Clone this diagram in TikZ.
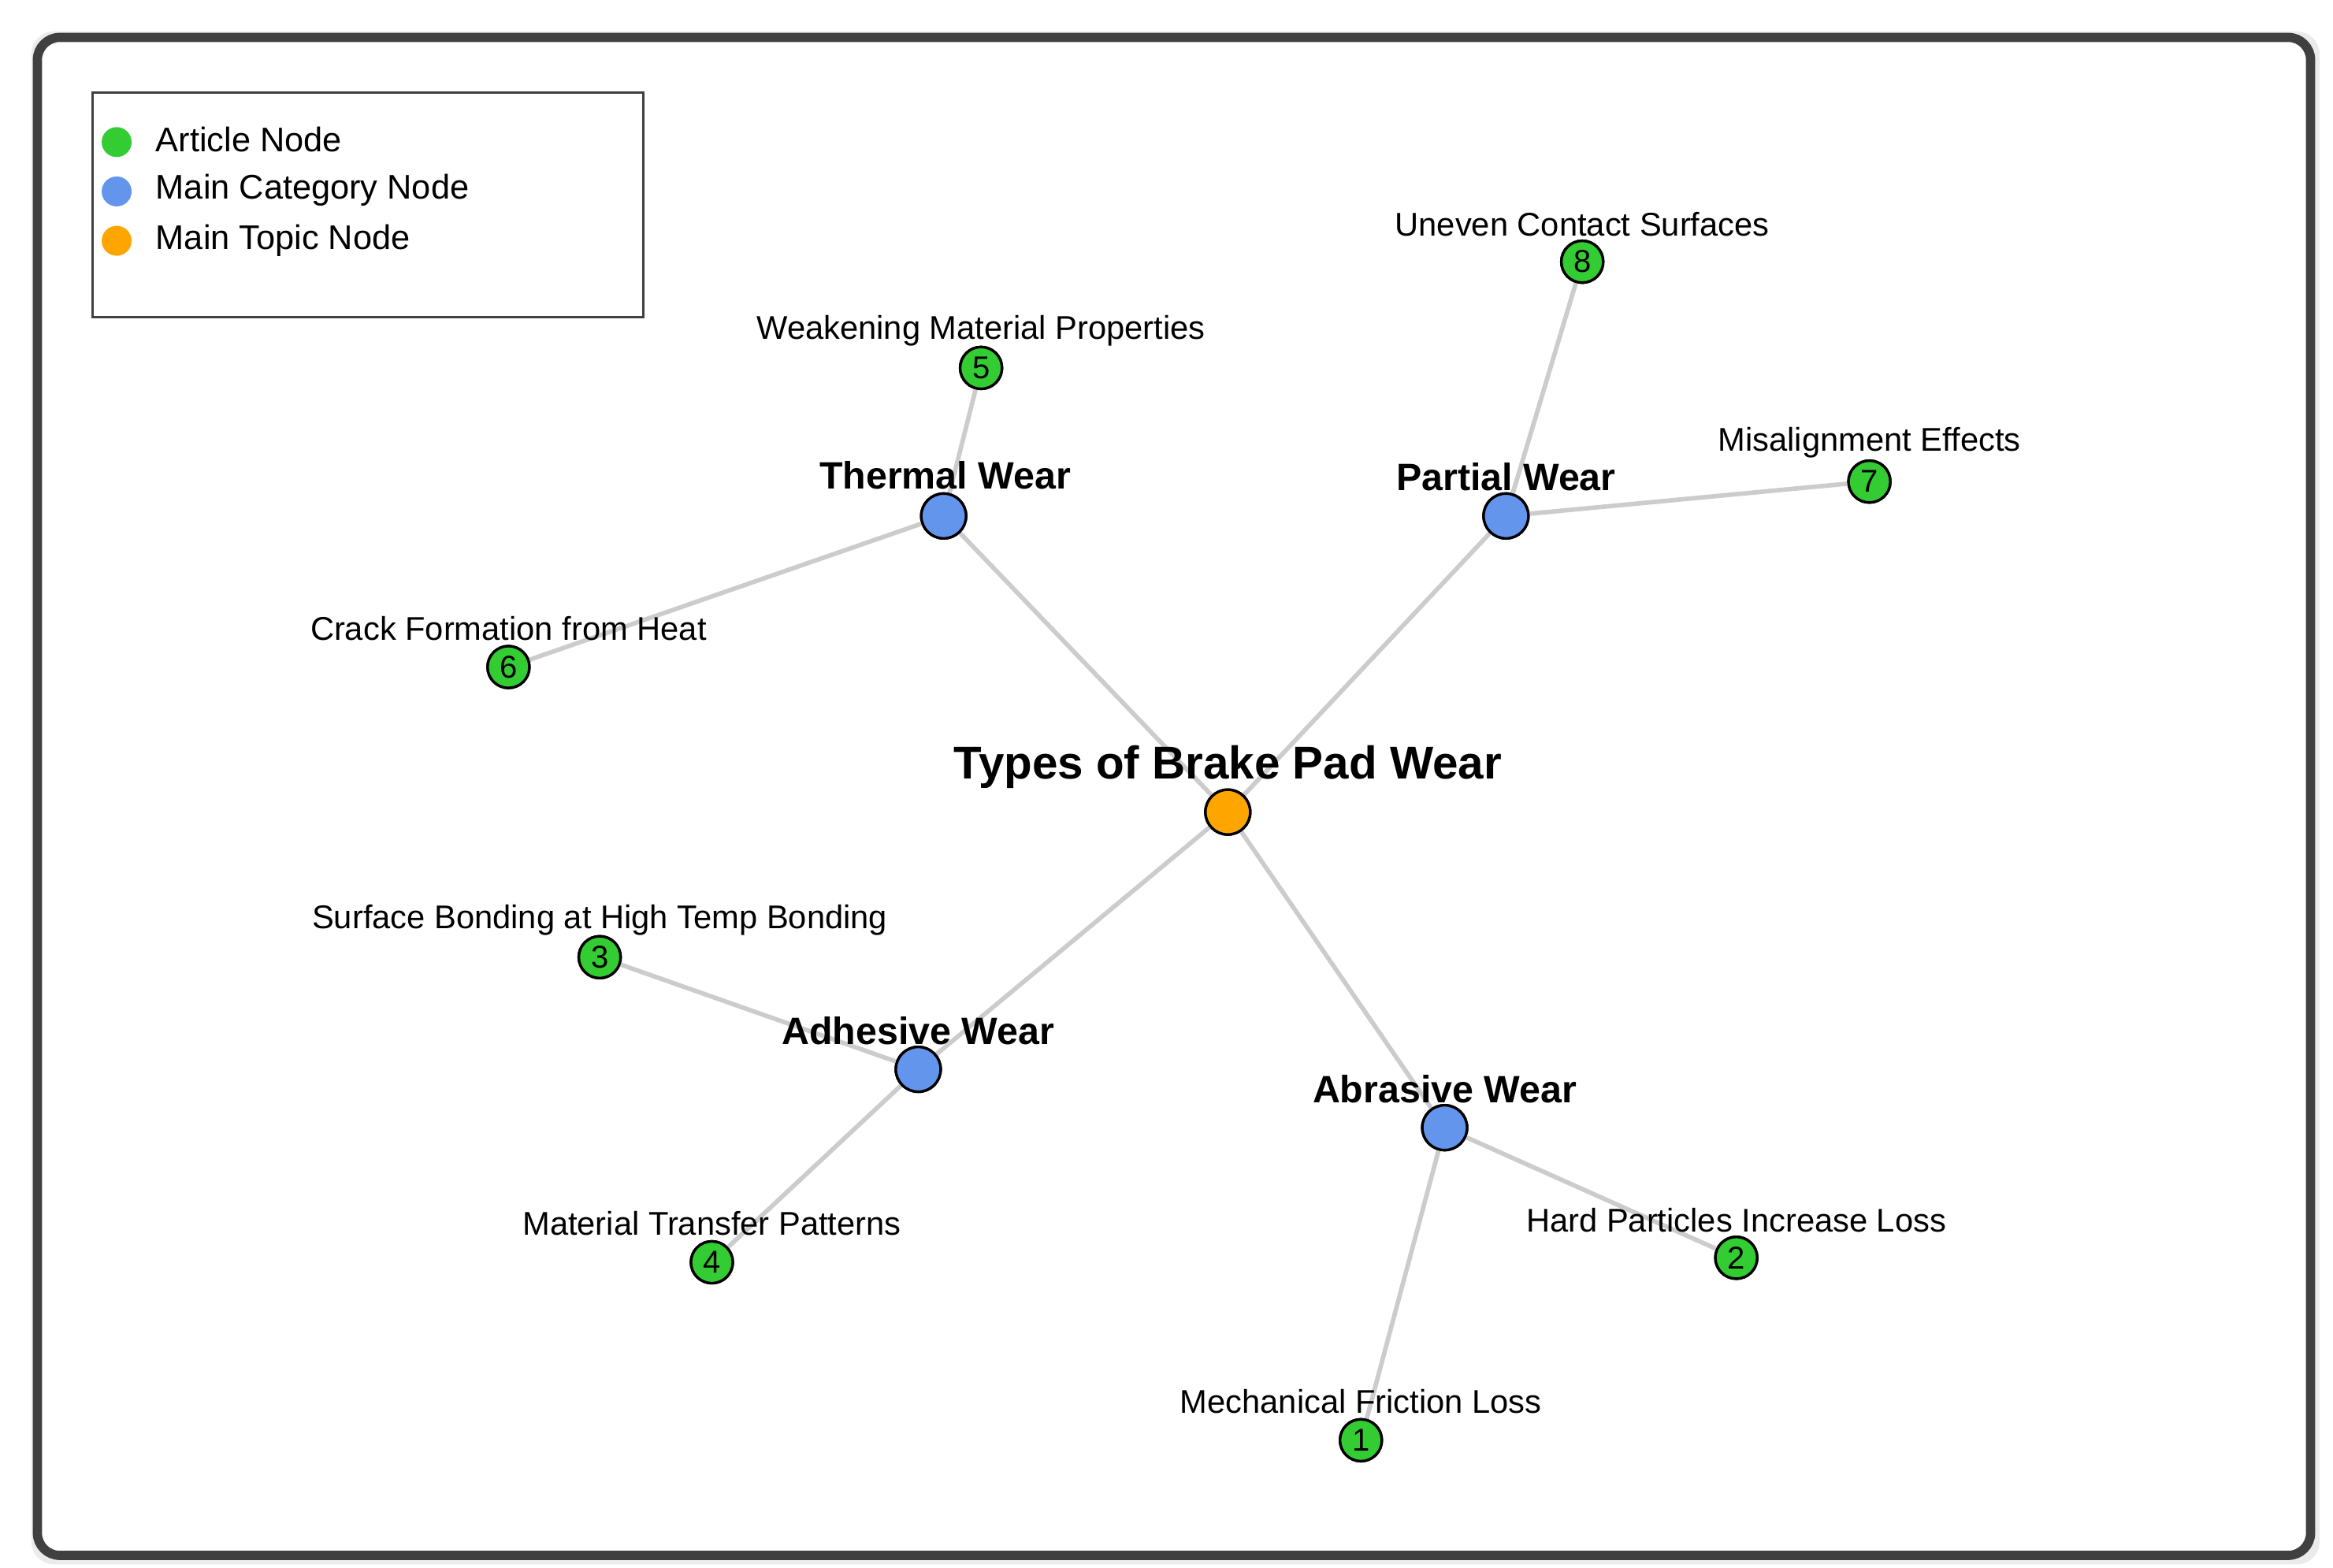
\documentclass[tikz,border=0pt]{standalone}
\usepackage{fontspec}
\setmainfont{Liberation Sans}
\definecolor{artgreen}{HTML}{33CC33}
\definecolor{catblue}{HTML}{6495ED}
\definecolor{topicorange}{HTML}{FFA500}
\definecolor{edgegray}{HTML}{CCCCCC}
\tikzset{
  article/.style={circle, draw=black, line width=1pt, fill=artgreen, minimum size=0.56cm, inner sep=0pt, font=\fontsize{12}{12}\selectfont},
  category/.style={circle, draw=black, line width=1pt, fill=catblue, minimum size=0.6cm, inner sep=0pt},
  topic/.style={circle, draw=black, line width=1pt, fill=topicorange, minimum size=0.6cm, inner sep=0pt},
  artlabel/.style={font=\fontsize{12.5}{13}\selectfont},
  catlabel/.style={font=\fontsize{14.5}{15}\selectfont\bfseries},
  edge/.style={edgegray, line width=1.7pt}
}
\begin{document}
\begin{tikzpicture}[x=0.02cm, y=-0.02cm]
\useasboundingbox (0,0) rectangle (1560,1048);
% frame
\fill[black!8, rounded corners=0.3cm] (21,21) rectangle (1551,1046);
\draw[black!75, line width=3.5pt, fill=white, rounded corners=0.3cm] (25,25) rectangle (1545,1040);

% legend
\draw[black!75, line width=1pt] (62,62) rectangle (430,212);
\fill[artgreen] (78,95) circle (10);
\fill[catblue] (78,128) circle (10);
\fill[topicorange] (78,161) circle (10);
\node[anchor=west, font=\fontsize{13}{13}\selectfont] (lgA) at (98,93) {Article Node};
\node[anchor=west, font=\fontsize{13}{13}\selectfont] (lgB) at (98,127) {Main Category Node};
\node[anchor=west, font=\fontsize{13}{13}\selectfont] (lgC) at (98,161) {Main Topic Node};

% nodes
\node[topic] (brake) at (821,543) {};
\node[category] (thermal) at (631,345) {};
\node[category] (partial) at (1007,345) {};
\node[category] (adhesive) at (614,715) {};
\node[category] (abrasive) at (966,754) {};
\node[article] (a1) at (910,963) {1};
\node[article] (a2) at (1161,841) {2};
\node[article] (a3) at (401,640) {3};
\node[article] (a4) at (476,844) {4};
\node[article] (a5) at (656,246) {5};
\node[article] (a6) at (340,446) {6};
\node[article] (a7) at (1250,322) {7};
\node[article] (a8) at (1058,175) {8};

% edges
\begin{scope}[on background layer/.style={}]
\end{scope}
\foreach \s/\t in {brake/thermal, brake/partial, brake/adhesive, brake/abrasive,
  thermal/a5, thermal/a6, partial/a8, partial/a7, adhesive/a3, adhesive/a4,
  abrasive/a2, abrasive/a1}
  \draw[edge] (\s) -- (\t);
% redraw circles on top
\node[topic] at (brake) {};
\node[category] at (thermal) {};
\node[category] at (partial) {};
\node[category] at (adhesive) {};
\node[category] at (abrasive) {};
\node[article] at (a1) {1};
\node[article] at (a2) {2};
\node[article] at (a3) {3};
\node[article] at (a4) {4};
\node[article] at (a5) {5};
\node[article] at (a6) {6};
\node[article] at (a7) {7};
\node[article] at (a8) {8};

% labels
\node[font=\fontsize{17.5}{18}\selectfont\bfseries] (lbrake) at (821,513) {Types of Brake Pad Wear};
\node[catlabel] (lthermal) at (632,318) {Thermal Wear};
\node[catlabel] (lpartial) at (1007,319) {Partial Wear};
\node[catlabel] (ladhesive) at (614,689) {Adhesive Wear};
\node[catlabel] (labrasive) at (966,728) {Abrasive Wear};
\node[artlabel] (l1) at (910,937) {Mechanical Friction Loss};
\node[artlabel] (l2) at (1161,816) {Hard Particles Increase Loss};
\node[artlabel] (l3) at (401,615) {Surface Bonding at High Temp Bonding};
\node[artlabel] (l4) at (476,818) {Material Transfer Patterns};
\node[artlabel] (l5) at (656,221) {Weakening Material Properties};
\node[artlabel] (l6) at (340,420) {Crack Formation from Heat};
\node[artlabel] (l7) at (1250,296) {Misalignment Effects};
\node[artlabel] (l8) at (1058,150) {Uneven Contact Surfaces};
\end{tikzpicture}
\end{document}
